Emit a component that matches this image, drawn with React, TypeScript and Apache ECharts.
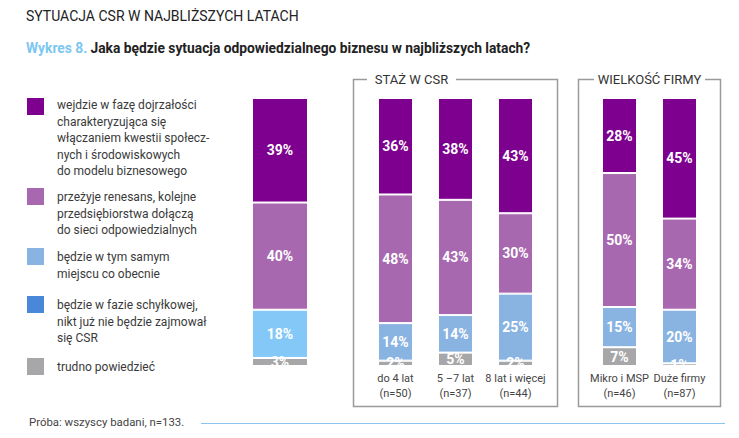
import React, { useEffect, useRef } from "react";
import * as echarts from "echarts";

const categories = [
  "Ogółem",
  "do 4 lat\n(n=50)",
  "5 –7 lat\n(n=37)",
  "8 lat i więcej\n(n=44)",
  "Mikro i MSP\n(n=46)",
  "Duże firmy\n(n=87)",
];
// which panel each category belongs to
const groupOf = [0, 1, 1, 1, 2, 2];

const seriesNames = [
  "trudno powiedzieć",
  "będzie w fazie schyłkowej,\nnikt już nie będzie zajmował\nsię CSR",
  "będzie w tym samym\nmiejscu co obecnie",
  "przeżyje renesans, kolejne\nprzedsiębiorstwa dołączą\ndo sieci odpowiedzialnych",
  "wejdzie w fazę dojrzałości\ncharakteryzująca się\nwłączaniem kwestii społecz-\nnych i środowiskowych\ndo modelu biznesowego",
];
const trudno = [3, 2, 5, 2, 7, 1];
const schylek = [0, 0, 0, 0, 0, 0];
const tymSamym = [18, 14, 14, 25, 15, 20];
const renesans = [40, 48, 43, 30, 50, 34];
const dojrzalosc = [39, 36, 38, 43, 28, 45];
const seriesValues = [trudno, schylek, tymSamym, renesans, dojrzalosc];
const seriesColors = ["#a7a7a9", "#4a87d9", "#89b3e1", "#a868b0", "#7d008f"];
const overallLightBlue = "#84c8f8";

const panelTitles = ["STAŻ W CSR", "WIELKOŚĆ FIRMY"];
const title = "SYTUACJA CSR W NAJBLIŻSZYCH LATACH";
const subtitleLead = "Wykres 8.";
const subtitleRest = "Jaka będzie sytuacja odpowiedzialnego biznesu w najbliższych latach?";
const footnote = "Próba: wszyscy badani, n=133.";

const FONT = "Roboto, 'Liberation Sans', sans-serif";

export default function App() {
  const ref = useRef<HTMLDivElement>(null);
  useEffect(() => {
    if (!ref.current) return;
    const chart = echarts.init(ref.current, undefined, { renderer: "svg" });

    const grids = [
      { left: 252, width: 56, top: 98, height: 268 },
      { left: 365.5, width: 180, top: 98, height: 268 },
      { left: 589.5, width: 120, top: 98, height: 268 },
    ];
    const barWidths = [56, 35, 35];

    const xAxis = grids.map((_, g) => ({
      type: "category" as const,
      gridIndex: g,
      data: categories.filter((_, i) => groupOf[i] === g),
      axisLine: { show: false },
      axisTick: { show: false },
      axisLabel: {
        show: g !== 0,
        margin: 5,
        color: "#454545",
        fontFamily: FONT,
        fontSize: 11,
        lineHeight: 15,
        interval: 0,
      },
    }));
    const yAxis = grids.map((_, g) => ({
      type: "value" as const,
      gridIndex: g,
      min: 0,
      max: 100,
      show: false,
    }));

    const series: any[] = [];
    grids.forEach((_, g) => {
      seriesNames.forEach((name, s) => {
        const data = seriesValues[s]
          .map((v, i) => ({ v, i }))
          .filter((d) => groupOf[d.i] === g)
          .map((d) => {
            const item: any = { value: d.v };
            if (s === 2 && d.i === 0) item.itemStyle = { color: overallLightBlue };
            return item;
          });
        series.push({
          type: "bar",
          name,
          xAxisIndex: g,
          yAxisIndex: g,
          stack: "s" + g,
          barWidth: barWidths[g],
          data,
          itemStyle: { color: seriesColors[s], borderColor: "#ffffff", borderWidth: 1 },
          label: {
            show: true,
            position: "inside",
            color: "#ffffff",
            fontFamily: FONT,
            fontWeight: "bold",
            fontSize: 14,
            formatter: (p: any) => (p.value > 0 ? p.value + "%" : ""),
          },
        });
      });
    });

    // legend drawn top to bottom (reverse of stacking order)
    const legendTops = [98, 188, 248, 296, 358];
    const legendGraphics: any[] = [];
    [4, 3, 2, 1, 0].forEach((s, k) => {
      legendGraphics.push({
        type: "rect",
        shape: { x: 27, y: legendTops[k], width: 17, height: 17 },
        style: { fill: seriesColors[s] },
      });
      legendGraphics.push({
        type: "text",
        x: 57,
        y: legendTops[k] - 1 + (k === 0 ? 0 : 2),
        style: {
          text: seriesNames[s],
          fill: "#3a3a3a",
          font: `12px ${FONT}`,
          lineHeight: 16.5,
          verticalAlign: "top",
        },
      });
    });

    const boxStroke = { stroke: "#9a9a9a", lineWidth: 1.5, fill: null };

    chart.setOption({
      animation: false,
      grid: grids,
      xAxis,
      yAxis,
      series,
      graphic: [
        {
          type: "text",
          x: 26,
          y: 16,
          style: {
            text: title,
            fill: "#222222",
            font: `14px ${FONT}`,
            verticalAlign: "middle",
          },
        },
        {
          type: "text",
          x: 26,
          y: 48,
          style: {
            text: `{a|${subtitleLead}} {b|${subtitleRest}}`,
            verticalAlign: "middle",
            rich: {
              a: { fill: "#7cc6f2", font: `bold 13.8px ${FONT}` },
              b: { fill: "#222222", font: `bold 13.8px ${FONT}` },
            },
          },
        },
        ...legendGraphics,
        {
          type: "polyline",
          shape: { points: [[367, 79.5], [353.5, 79.5], [353.5, 406.5], [557.5, 406.5], [557.5, 79.5], [456, 79.5]] },
          style: boxStroke,
        },
        {
          type: "text",
          x: 411.5,
          y: 79.5,
          style: { text: panelTitles[0], fill: "#333333", font: `13px ${FONT}`, align: "center", verticalAlign: "middle" },
        },
        {
          type: "polyline",
          shape: { points: [[594, 79.5], [578.5, 79.5], [578.5, 406.5], [720.5, 406.5], [720.5, 79.5], [705, 79.5]] },
          style: boxStroke,
        },
        {
          type: "text",
          x: 649.5,
          y: 79.5,
          style: { text: panelTitles[1], fill: "#333333", font: `13px ${FONT}`, align: "center", verticalAlign: "middle" },
        },
        {
          type: "text",
          x: 29,
          y: 422,
          style: { text: footnote, fill: "#444444", font: `11.4px ${FONT}`, verticalAlign: "middle" },
        },
        {
          type: "line",
          shape: { x1: 201, y1: 423.5, x2: 725, y2: 423.5 },
          style: { stroke: "#8cc4ec", lineWidth: 1 },
        },
      ],
    });
    return () => chart.dispose();
  }, []);
  return (
    <div
      ref={ref}
      style={{ position: "fixed", left: 0, top: 0, width: 739, height: 438, background: "#ffffff" }}
    />
  );
}
